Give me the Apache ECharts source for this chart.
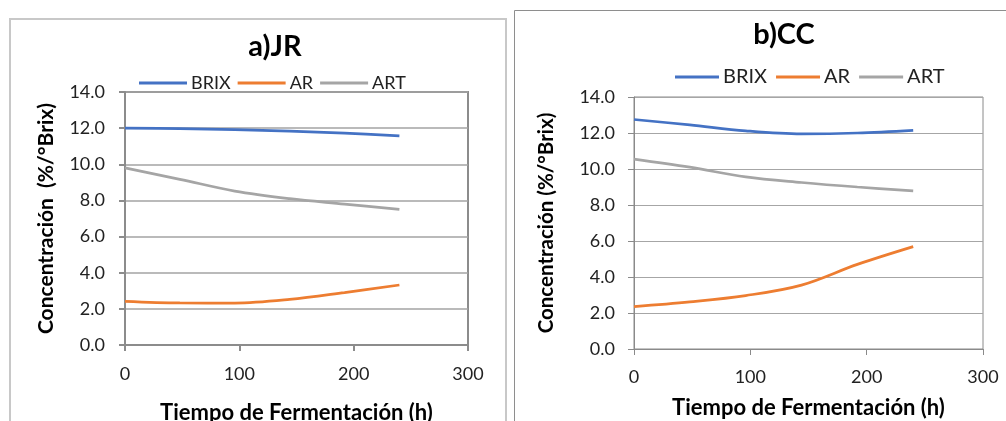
<!DOCTYPE html>
<html>
<head>
<meta charset="utf-8">
<script src="https://cdn.jsdelivr.net/npm/echarts@6/dist/echarts.min.js"></script>
<style>
html,body{margin:0;padding:0;background:#fff;}
#c{width:1006px;height:421px;}
</style>
</head>
<body>
<div id="c"></div>
<script>
const hours = [0, 48, 96, 144, 192, 240];
const seriesNames = ['BRIX', 'AR', 'ART'];
const jrBrix = [12.0, 11.97, 11.92, 11.83, 11.72, 11.57];
const jrAr = [2.42, 2.33, 2.32, 2.52, 2.9, 3.32];
const jrArt = [9.8, 9.17, 8.52, 8.1, 7.8, 7.5];
const ccBrix = [12.75, 12.45, 12.12, 11.95, 12.0, 12.15];
const ccAr = [2.36, 2.62, 2.97, 3.55, 4.7, 5.69];
const ccArt = [10.55, 10.1, 9.56, 9.25, 9.0, 8.79];
const panelTitles = ['a)JR', 'b)CC'];
const xName = 'Tiempo de Fermentación (h)';
const yNames = ['Concentración  (%/°Brix)', 'Concentración (%/°Brix)'];
const xMax = 300, xStep = 100, yMax = 14, yStep = 2;

const colors = ['#4472C4', '#ED7D31', '#A5A5A5'];
const FONT = 'Lato';
const chart = echarts.init(document.getElementById('c'));

function pair(xs, ys) { return xs.map((x, i) => [x, ys[i]]); }

const panels = [
  {grid: {left: 125, top: 92, width: 343, height: 253}, data: [jrBrix, jrAr, jrArt],
   border: '#8c8c8c', bw: 2, split: '#a3a3a3', sw: 1.5, lab: 18, xn: 22, yn: 21, xMargin: 20, yMargin: 20, yGap: 68, xGap: 57},
  {grid: {left: 634, top: 97, width: 349, height: 252}, data: [ccBrix, ccAr, ccArt],
   border: '#8a8a8a', bw: 1, split: '#a6a6a6', sw: 1, lab: 18, xn: 22, yn: 20.5, xMargin: 19, yMargin: 19, yGap: 77, xGap: 48}
];

const grids = [], xAxes = [], yAxes = [], series = [];
panels.forEach((p, k) => {
  grids.push(Object.assign({show: true, borderColor: p.border, borderWidth: p.bw, backgroundColor: 'transparent',
    containLabel: false, outerBoundsMode: 'none'}, p.grid));
  xAxes.push({
    type: 'value', gridIndex: k, min: 0, max: xMax, interval: xStep,
    name: xName, nameLocation: 'middle', nameGap: p.xGap,
    nameTextStyle: {fontFamily: FONT, fontWeight: 'bold', fontSize: p.xn, color: '#000'},
    axisLine: {show: true, lineStyle: {color: p.border, width: p.bw}},
    axisTick: {show: true, length: 6, lineStyle: {color: p.border, width: p.bw}},
    axisLabel: {margin: p.xMargin, fontFamily: FONT, fontSize: p.lab, color: '#222'},
    splitLine: {show: false}
  });
  yAxes.push({
    type: 'value', gridIndex: k, min: 0, max: yMax, interval: yStep,
    name: yNames[k], nameLocation: 'middle', nameGap: p.yGap, nameRotate: 90,
    nameTextStyle: {fontFamily: FONT, fontWeight: 'bold', fontSize: p.yn, color: '#000'},
    axisLine: {show: true, lineStyle: {color: p.border, width: p.bw}},
    axisTick: {show: true, length: 6, lineStyle: {color: p.border, width: p.bw}},
    axisLabel: {margin: p.yMargin, fontFamily: FONT, fontSize: p.lab, color: '#222',
      formatter: v => v.toFixed(1)},
    splitLine: {show: true, lineStyle: {color: p.split, width: p.sw}}
  });
  p.data.forEach((d, j) => {
    series.push({
      type: 'line', name: seriesNames[j], xAxisIndex: k, yAxisIndex: k,
      data: pair(hours, d), smooth: 0.35, symbol: 'none',
      lineStyle: {color: colors[j], width: 2.75}, itemStyle: {color: colors[j]},
      emphasis: {disabled: true}
    });
  });
});

chart.setOption({
  animation: false,
  backgroundColor: '#fff',
  color: colors,
  graphic: [
    {type: 'rect', z: -10, shape: {x: 10, y: 19, width: 496, height: 430}, style: {fill: 'none', stroke: '#c8c8c8', lineWidth: 2}},
    {type: 'rect', z: -10, shape: {x: 514.5, y: 10.5, width: 520, height: 430}, style: {fill: 'none', stroke: '#8e8e8e', lineWidth: 1}},
    {type: 'text', x: 275, y: 47, style: {text: panelTitles[0], fontFamily: FONT, fontWeight: 'bold', fontSize: 29, fill: '#000', textAlign: 'center', textVerticalAlign: 'middle'}},
    {type: 'text', x: 784, y: 35, style: {text: panelTitles[1], fontFamily: FONT, fontWeight: 'bold', fontSize: 29, fill: '#000', textAlign: 'center', textVerticalAlign: 'middle'}}
  ],
  legend: [
    {left: 134, top: 69, icon: 'rect', itemWidth: 48, itemHeight: 3, itemGap: 7, data: seriesNames,
     textStyle: {fontFamily: FONT, fontSize: 18, color: '#222', padding: [0, 0, 0, -1]}},
    {left: 670, top: 62, icon: 'rect', itemWidth: 44, itemHeight: 3, itemGap: 9, data: seriesNames,
     textStyle: {fontFamily: FONT, fontSize: 20, color: '#222', padding: [0, 0, 0, -1]}}
  ],
  grid: grids, xAxis: xAxes, yAxis: yAxes, series: series
});
</script>
</body>
</html>
